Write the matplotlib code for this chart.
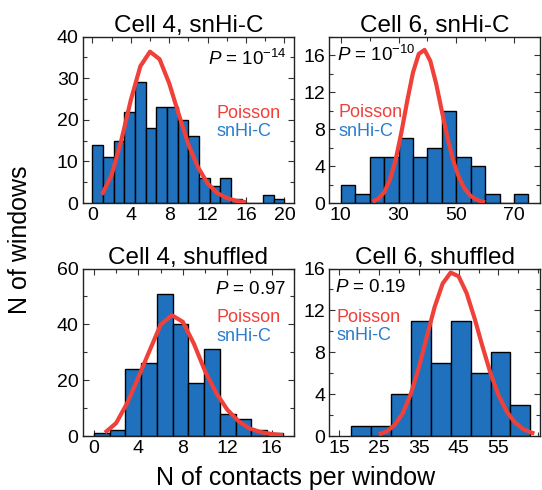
import numpy as np
import matplotlib
matplotlib.use("Agg")
import matplotlib.pyplot as plt
from matplotlib.ticker import MultipleLocator

plt.rcParams['font.family'] = ['Liberation Sans', 'DejaVu Sans']
plt.rcParams['mathtext.fontset'] = 'custom'
plt.rcParams['mathtext.it'] = 'Liberation Sans:italic'
plt.rcParams['mathtext.rm'] = 'Liberation Sans'

# Cell 4, snHi-C
c4_counts = [14, 11, 15, 22, 29, 18, 23, 23, 20, 16, 6, 4, 6, 1, 0, 0, 2, 1]
c4_range = (0, 20)
c4_px = list(range(1, 17))
c4_py = [2.0, 6.7, 14.9, 24.7, 32.9, 36.4, 34.6, 28.8, 21.3, 14.1, 8.6, 4.7, 2.4, 1.2, 0.5, 0.2]

# Cell 6, snHi-C
c6_counts = [2, 1, 5, 5, 7, 5, 6, 10, 5, 4, 1, 0, 1]
c6_range = (10, 75)
c6_px = list(range(21, 61, 2)) + [60]
c6_py = [0.15, 0.46, 1.16, 2.51, 4.70, 7.68, 11.06, 14.14, 16.14, 16.57,
         15.37, 12.94, 9.94, 6.99, 4.52, 2.70, 1.49, 0.76, 0.36, 0.16, 0.10]

# Cell 4, shuffled
c4s_counts = [1, 2, 24, 26, 51, 40, 19, 31, 8, 6, 2, 1]
c4s_range = (0, 17)
c4s_px = list(range(1, 18))
c4s_py = [1.2, 4.6, 11.8, 21.0, 30.5, 39.8, 43.3, 40.9, 33.0, 23.2, 15.4, 9.4, 5.3, 2.7, 1.4, 0.7, 0.3]

# Cell 6, shuffled
c6s_counts = [1, 1, 4, 11, 7, 11, 6, 8, 3]
c6s_range = (18, 63)
c6s_px = list(range(25, 65, 2)) + [64]
c6s_py = [0.16, 0.44, 1.05, 2.18, 3.99, 6.50, 9.44, 12.33, 14.56, 15.61,
          15.26, 13.66, 11.25, 8.54, 6.00, 3.91, 2.37, 1.34, 0.71, 0.35, 0.24]

BAR_BLUE = '#1f70bd'
RED = '#f0403a'
TXT_BLUE = '#2a7ccc'


def draw_panel(ax, counts, rng, px, py, title, ptext, xlim, ylim,
               xticks, xminor, yticks, yminor, ppos, legpos, p_right):
    edges = np.linspace(rng[0], rng[1], len(counts) + 1)
    ax.bar(edges[:-1], counts, width=np.diff(edges), align='edge',
           color=BAR_BLUE, edgecolor='black', linewidth=1.0, zorder=2)
    ax.plot(px, py, color=RED, linewidth=3.0, solid_capstyle='butt', zorder=3)

    ax.set_xlim(*xlim)
    ax.set_ylim(*ylim)
    ax.set_xticks(xticks)
    ax.set_yticks(yticks)
    ax.xaxis.set_minor_locator(MultipleLocator(xminor))
    ax.yaxis.set_minor_locator(MultipleLocator(yminor))
    ax.tick_params(which='both', direction='in', top=True, right=True,
                   labelsize=14, width=0.8, color='#333333')
    ax.tick_params(which='major', length=4, pad=3)
    ax.tick_params(which='minor', length=3)
    for s in ax.spines.values():
        s.set_linewidth(1.0)
        s.set_color('#222222')

    ax.set_title(title, fontsize=17.5, pad=3)
    ha = 'right' if p_right else 'left'
    ax.text(ppos[0], ppos[1], ptext, transform=ax.transAxes, ha=ha,
            va='center', fontsize=13.5)
    ax.text(legpos[0], legpos[1], 'Poisson', transform=ax.transAxes,
            ha='left', va='center', fontsize=13, color=RED)
    ax.text(legpos[0], legpos[1] - 0.112, 'snHi-C', transform=ax.transAxes,
            ha='left', va='center', fontsize=13, color=TXT_BLUE)


fig = plt.figure(figsize=(5.42, 4.90), dpi=100)
ax1 = fig.add_axes([0.1526, 0.5857, 0.390, 0.3394])
ax2 = fig.add_axes([0.6076, 0.5857, 0.3887, 0.3394])
ax3 = fig.add_axes([0.1526, 0.1102, 0.390, 0.3418])
ax4 = fig.add_axes([0.6076, 0.1102, 0.3887, 0.3418])

draw_panel(ax1, c4_counts, c4_range, c4_px, c4_py, 'Cell 4, snHi-C',
           r'$P$ = 10$^{-14}$', (-1, 21), (0, 40), [0, 4, 8, 12, 16, 20], 2,
           [0, 10, 20, 30, 40], 5, (0.967, 0.866), (0.634, 0.539), True)
draw_panel(ax2, c6_counts, c6_range, c6_px, c6_py, 'Cell 6, snHi-C',
           r'$P$ = 10$^{-10}$', (6, 79), (0, 18), [10, 30, 50, 70], 10,
           [0, 4, 8, 12, 16], 2, (0.035, 0.89), (0.043, 0.543), False)
draw_panel(ax3, c4s_counts, c4s_range, c4s_px, c4s_py, 'Cell 4, shuffled',
           r'$P$ = 0.97', (-1, 18), (0, 60), [0, 4, 8, 12, 16], 2,
           [0, 20, 40, 60], 10, (0.965, 0.872), (0.634, 0.709), True)
draw_panel(ax4, c6s_counts, c6s_range, c6s_px, c6s_py, 'Cell 6, shuffled',
           r'$P$ = 0.19', (12.6, 65.4), (0, 16), [15, 25, 35, 45, 55], 5,
           [0, 4, 8, 12, 16], 2, (0.027, 0.884), (0.035, 0.71), False)

fig.text(0.037, 0.51, 'N of windows', rotation=90, ha='center', va='center',
         fontsize=18)
fig.text(0.545, 0.024, 'N of contacts per window', ha='center', va='center',
         fontsize=18)

fig.savefig('out.png', dpi=100)
